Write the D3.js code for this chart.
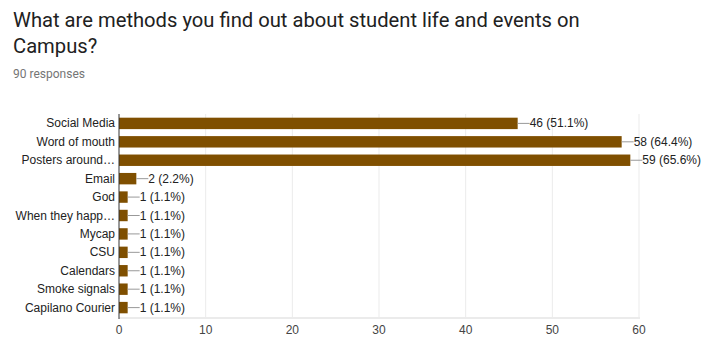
<!DOCTYPE html>
<html>
<head>
<meta charset="utf-8">
<script src="https://cdn.jsdelivr.net/npm/d3@7"></script>
<style>
  body { margin: 0; background: #fff; }
  .title { font-family: Roboto, sans-serif; font-size: 20.2px; fill: #212121; }
  .sub { font-family: Roboto, sans-serif; font-size: 12px; fill: #757575; }
  .lbl { font-family: "Liberation Sans", Arial, sans-serif; font-size: 12px; fill: #222; }
</style>
</head>
<body>
<svg id="chart" width="712" height="352"></svg>
<script>
// categories and counts
const categories = ['Social Media', 'Word of mouth', 'Posters around…', 'Email', 'God',
  'When they happ…', 'Mycap', 'CSU', 'Calendars', 'Smoke signals', 'Capilano Courier'];
const counts = [46, 58, 59, 2, 1, 1, 1, 1, 1, 1, 1];
const percents = ['51.1%', '64.4%', '65.6%', '2.2%', '1.1%', '1.1%', '1.1%', '1.1%', '1.1%', '1.1%', '1.1%'];
const xTicks = [0, 10, 20, 30, 40, 50, 60];

const svg = d3.select('#chart');
const barColor = '#7f4f00';

// header
svg.append('text').attr('class', 'title').attr('x', 13).attr('y', 27)
  .text('What are methods you find out about student life and events on');
svg.append('text').attr('class', 'title').attr('x', 13).attr('y', 53).text('Campus?');
svg.append('text').attr('class', 'sub').attr('x', 13).attr('y', 78).text('90 responses');

const x = d3.scaleLinear().domain([0, 60]).range([119, 639]);
const y = d3.scaleBand().domain(categories).range([114, 317]).paddingInner(0.38).paddingOuter(0.2);

// grid lines
svg.append('g').selectAll('line').data(xTicks.slice(1)).enter().append('line')
  .attr('x1', d => x(d)).attr('x2', d => x(d))
  .attr('y1', 114).attr('y2', 317)
  .attr('stroke', '#ebebeb').attr('stroke-width', 1);

// baseline
svg.append('line').attr('x1', 119).attr('x2', 640).attr('y1', 318).attr('y2', 318)
  .attr('stroke', '#ebebeb').attr('stroke-width', 2);

// x tick labels
svg.append('g').selectAll('text').data(xTicks).enter().append('text')
  .attr('class', 'lbl').attr('x', d => x(d)).attr('y', 334)
  .attr('text-anchor', 'middle').style('fill', '#444').text(d => d);

// bars
svg.append('g').selectAll('rect').data(counts).enter().append('rect')
  .attr('x', x(0)).attr('y', (d, i) => y(categories[i]))
  .attr('width', d => x(d) - x(0)).attr('height', y.bandwidth())
  .attr('fill', barColor);

// category labels
svg.append('g').selectAll('text').data(categories).enter().append('text')
  .attr('class', 'lbl').attr('x', 115).attr('y', d => y(d) + y.bandwidth() / 2 + 4)
  .attr('text-anchor', 'end').text(d => d);

// value annotations with leader lines
const ann = svg.append('g').selectAll('g').data(counts).enter().append('g');
ann.append('line')
  .attr('x1', d => x(d)).attr('x2', d => x(d) + 12)
  .attr('y1', (d, i) => y(categories[i]) + y.bandwidth() / 2)
  .attr('y2', (d, i) => y(categories[i]) + y.bandwidth() / 2)
  .attr('stroke', '#999').attr('stroke-width', 1);
ann.append('text').attr('class', 'lbl')
  .attr('x', d => x(d) + 12)
  .attr('y', (d, i) => y(categories[i]) + y.bandwidth() / 2 + 4)
  .text((d, i) => d + ' (' + percents[i] + ')');

// vertical axis line
svg.append('line').attr('x1', 119).attr('x2', 119).attr('y1', 114).attr('y2', 319)
  .attr('stroke', '#333').attr('stroke-width', 1);
</script>
</body>
</html>
